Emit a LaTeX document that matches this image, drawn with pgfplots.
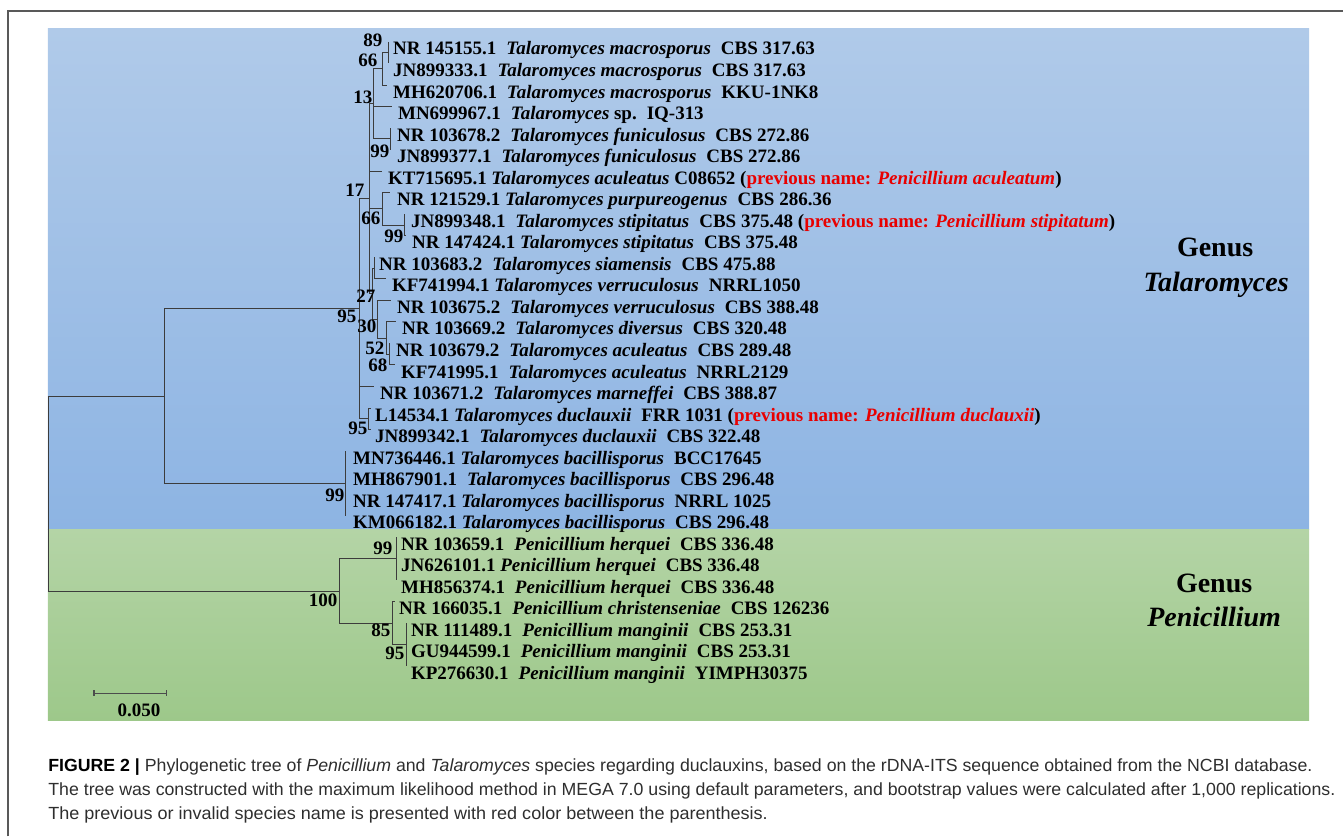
\documentclass[border=0pt]{standalone}
\usepackage{pgfplots}
\pgfplotsset{compat=1.18}
\usepackage{fontspec}
\setmainfont{Liberation Serif}
\newfontfamily\capfont{Liberation Sans}
\usepackage{graphicx}
\definecolor{bluetop}{RGB}{176,202,233}
\definecolor{bluebot}{RGB}{141,180,227}
\definecolor{greentop}{RGB}{180,212,166}
\definecolor{greenbot}{RGB}{157,200,138}
\definecolor{prevred}{RGB}{232,0,0}
\definecolor{branch}{RGB}{60,60,60}
\newcommand{\lf}{\fontsize{9.5}{11}\selectfont\bfseries}
\newcommand{\g}{\hspace{5pt}}
\newcommand{\pn}[1]{(\textcolor{prevred}{previous name: \textit{#1}})}
\begin{document}
\begin{tikzpicture}[
  leaf/.style={anchor=base west, inner sep=0pt, font=\lf},
  bs/.style={anchor=base east, inner sep=0pt, font=\lf},
  gen/.style={anchor=base, inner sep=0pt, font=\fontsize{14}{16}\selectfont\bfseries},
  captxt/.style={anchor=base west, inner sep=0pt, text=black!82, font=\capfont\fontsize{8.8}{10}\selectfont}]
\begin{axis}[
  scale only axis, width=672pt, height=418.5pt,
  xmin=0, xmax=1344, ymin=0, ymax=837, y dir=reverse,
  hide axis, clip=false, unbounded coords=jump, no markers]
% bounding frame
\addplot[draw=none, forget plot] coordinates {(0,0) (1344,837)};
% background panels
\addplot[draw=none, top color=bluetop, bottom color=bluebot, forget plot]
  coordinates {(48,29) (1310,29) (1310,530) (48,530)};
\addplot[draw=none, top color=greentop, bottom color=greenbot, forget plot]
  coordinates {(48,530) (1310,530) (1310,721) (48,721)};
% outer figure frame
\addplot[black!65, line width=1pt, forget plot] coordinates {(8,837) (8,11) (1344,11)};
% tree branches
\addplot[branch, line width=0.5pt, forget plot] coordinates {
 (165,396.4) (49,396.4) (49,591.5) (340,591.5) (nan,nan)
 (360,309) (165,309) (165,483.8) (346,483.8) (nan,nan)
 (346,451.45) (346,516.1) (nan,nan)
 (370,198.95) (360,198.95) (360,419.1) (369,419.1) (nan,nan)
 (360,386.8) (374,386.8) (nan,nan)
 (371,408.35) (369,408.35) (369,429.9) (371,429.9) (nan,nan)
 (374,104) (370,104) (370,293.9) (373,293.9) (nan,nan)
 (370,171.3) (382,171.3) (nan,nan)
 (370,209) (383,209) (nan,nan)
 (383,68.95) (374,68.95) (374,139) (391,139) (nan,nan)
 (374,106.65) (392,106.65) (nan,nan)
 (389,52.8) (383,52.8) (383,85.1) (387,85.1) (nan,nan)
 (389,42) (389,63.55) (nan,nan)
 (391,128.2) (391,149.75) (nan,nan)
 (390,192.85) (383,192.85) (383,225.2) (405,225.2) (nan,nan)
 (405,214.4) (405,235.95) (406,235.95) (nan,nan)
 (375,268.3) (373,268.3) (373,319.45) (378,319.45) (nan,nan)
 (375,257.5) (375,279.05) (386,279.05) (nan,nan)
 (391,300.6) (378,300.6) (378,338.3) (387,338.3) (nan,nan)
 (396,322.15) (387,322.15) (387,354.5) (390,354.5) (nan,nan)
 (390,343.7) (390,365.25) (395,365.25) (nan,nan)
 (397,559.2) (340,559.2) (340,623.85) (393,623.85) (nan,nan)
 (397,537.65) (397,580.75) (nan,nan)
 (395,602.3) (393,602.3) (393,645.4) (407,645.4) (nan,nan)
 (407,623.85) (407,666.95)
};
% scale bar
\addplot[black!70, line width=0.6pt, forget plot] coordinates {
 (94,691) (94,697) (nan,nan) (94,694) (167,694) (nan,nan) (167,691) (167,697)};
\node[anchor=base, inner sep=0pt, font=\lf] at (axis cs:139,717) {0.050};
% leaf labels
\node[leaf] at (axis cs:393,55)   {NR 145155.1\g\textit{Talaromyces macrosporus}\g CBS 317.63};
\node[leaf] at (axis cs:393,76.5) {JN899333.1\g\textit{Talaromyces macrosporus}\g CBS 317.63};
\node[leaf] at (axis cs:393,98.1) {MH620706.1\g\textit{Talaromyces macrosporus}\g KKU-1NK8};
\node[leaf] at (axis cs:398,119.7){MN699967.1\g\textit{Talaromyces} sp.\g IQ-313};
\node[leaf] at (axis cs:397,141.2){NR 103678.2\g\textit{Talaromyces funiculosus}\g CBS 272.86};
\node[leaf] at (axis cs:397,162.8){JN899377.1\g\textit{Talaromyces funiculosus}\g CBS 272.86};
\node[leaf] at (axis cs:388,184.3){KT715695.1 \textit{Talaromyces aculeatus} C08652 \pn{Penicillium aculeatum}};
\node[leaf] at (axis cs:397,205.9){NR 121529.1 \textit{Talaromyces purpureogenus}\g CBS 286.36};
\node[leaf] at (axis cs:411,227.4){JN899348.1\g\textit{Talaromyces stipitatus}\g CBS 375.48 \pn{Penicillium stipitatum}};
\node[leaf] at (axis cs:412,249)  {NR 147424.1 \textit{Talaromyces stipitatus}\g CBS 375.48};
\node[leaf] at (axis cs:379,270.5){NR 103683.2\g\textit{Talaromyces siamensis}\g CBS 475.88};
\node[leaf] at (axis cs:392,292.1){KF741994.1 \textit{Talaromyces verruculosus}\g NRRL1050};
\node[leaf] at (axis cs:397,313.6){NR 103675.2\g\textit{Talaromyces verruculosus}\g CBS 388.48};
\node[leaf] at (axis cs:402,335.2){NR 103669.2\g\textit{Talaromyces diversus}\g CBS 320.48};
\node[leaf] at (axis cs:396,356.7){NR 103679.2\g\textit{Talaromyces aculeatus}\g CBS 289.48};
\node[leaf] at (axis cs:401,378.3){KF741995.1\g\textit{Talaromyces aculeatus}\g NRRL2129};
\node[leaf] at (axis cs:380,399.8){NR 103671.2\g\textit{Talaromyces marneffei}\g CBS 388.87};
\node[leaf] at (axis cs:375,421.4){L14534.1 \textit{Talaromyces duclauxii}\g FRR 1031 \pn{Penicillium duclauxii}};
\node[leaf] at (axis cs:375,442.9){JN899342.1\g\textit{Talaromyces duclauxii}\g CBS 322.48};
\node[leaf] at (axis cs:353,464.5){MN736446.1 \textit{Talaromyces bacillisporus}\g BCC17645};
\node[leaf] at (axis cs:353,486)  {MH867901.1\g\textit{Talaromyces bacillisporus}\g CBS 296.48};
\node[leaf] at (axis cs:353,507.6){NR 147417.1 \textit{Talaromyces bacillisporus}\g NRRL 1025};
\node[leaf] at (axis cs:353,529.1){KM066182.1 \textit{Talaromyces bacillisporus}\g CBS 296.48};
\node[leaf] at (axis cs:401,550.7){NR 103659.1\g\textit{Penicillium herquei}\g CBS 336.48};
\node[leaf] at (axis cs:401,572.2){JN626101.1 \textit{Penicillium herquei}\g CBS 336.48};
\node[leaf] at (axis cs:401,593.8){MH856374.1\g\textit{Penicillium herquei}\g CBS 336.48};
\node[leaf] at (axis cs:399,615.3){NR 166035.1\g\textit{Penicillium christenseniae}\g CBS 126236};
\node[leaf] at (axis cs:411,636.9){NR 111489.1\g\textit{Penicillium manginii}\g CBS 253.31};
\node[leaf] at (axis cs:411,658.4){GU944599.1\g\textit{Penicillium manginii}\g CBS 253.31};
\node[leaf] at (axis cs:411,680)  {KP276630.1\g\textit{Penicillium manginii}\g YIMPH30375};
% bootstrap values
\node[bs] at (axis cs:383,47)  {89};
\node[bs] at (axis cs:378,67)  {66};
\node[bs] at (axis cs:373,104) {13};
\node[bs] at (axis cs:390,158) {99};
\node[bs] at (axis cs:365,197) {17};
\node[bs] at (axis cs:381,225) {66};
\node[bs] at (axis cs:404,243) {99};
\node[bs] at (axis cs:376,303) {27};
\node[bs] at (axis cs:357,323) {95};
\node[bs] at (axis cs:377,333) {30};
\node[bs] at (axis cs:385,355) {52};
\node[bs] at (axis cs:388,372) {68};
\node[bs] at (axis cs:368,435) {95};
\node[bs] at (axis cs:345,502) {99};
\node[bs] at (axis cs:338,607) {100};
\node[bs] at (axis cs:393,555) {99};
\node[bs] at (axis cs:391,637) {85};
\node[bs] at (axis cs:405,660) {95};
% genus labels
\node[gen] at (axis cs:1216,257) {Genus};
\node[gen] at (axis cs:1217,292) {\textit{Talaromyces}};
\node[gen] at (axis cs:1215,593) {Genus};
\node[gen] at (axis cs:1215,627) {\textit{Penicillium}};
% caption
\node[captxt] at (axis cs:48,772) {\resizebox{632.5pt}{\height}{\textcolor{black}{\textbf{FIGURE 2 |}} Phylogenetic tree of \textit{Penicillium} and \textit{Talaromyces} species regarding duclauxins, based on the rDNA-ITS sequence obtained from the NCBI database.}};
\node[captxt] at (axis cs:48,796) {\resizebox{644pt}{\height}{The tree was constructed with the maximum likelihood method in MEGA 7.0 using default parameters, and bootstrap values were calculated after 1,000 replications.}};
\node[captxt] at (axis cs:48,820) {\resizebox{360pt}{\height}{The previous or invalid species name is presented with red color between the parenthesis.}};
\end{axis}
\end{tikzpicture}
\end{document}
